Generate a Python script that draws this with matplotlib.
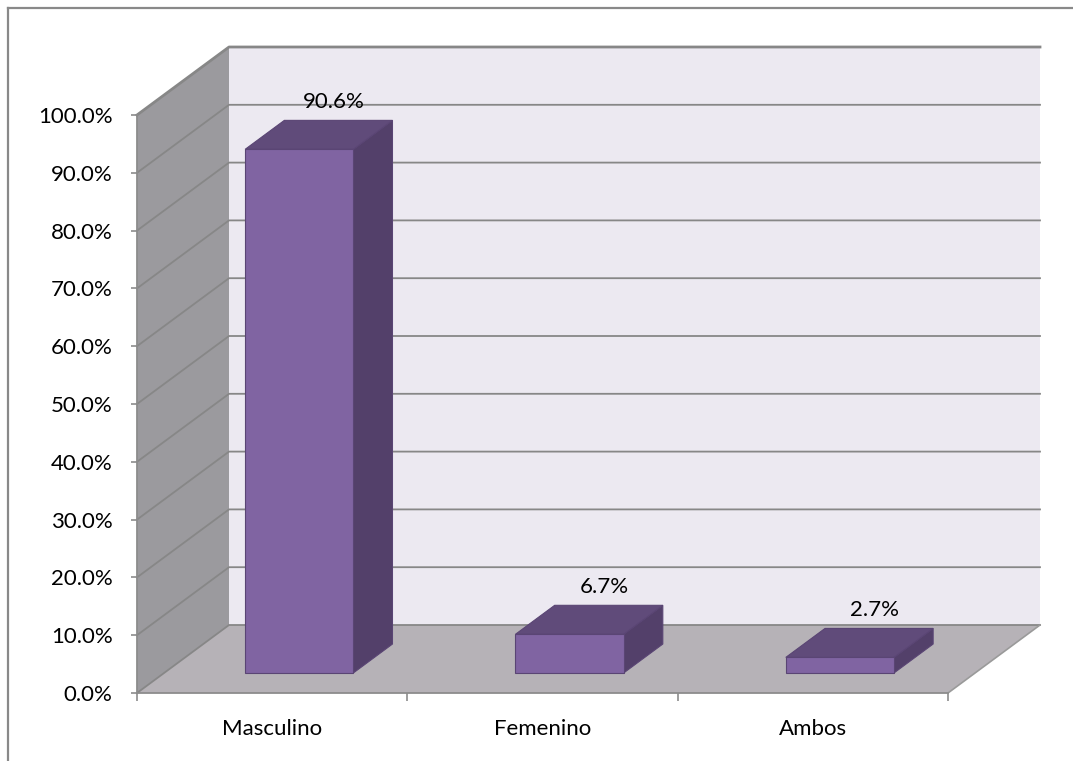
import matplotlib
matplotlib.use("Agg")
import matplotlib.pyplot as plt
from matplotlib.patches import Polygon
from matplotlib.lines import Line2D
from matplotlib.ticker import FixedLocator

# ---- data ----
categories = ["Masculino", "Femenino", "Ambos"]
values = [90.6, 6.7, 2.7]
labels = ["90.6%", "6.7%", "2.7%"]
yticks = [0, 10, 20, 30, 40, 50, 60, 70, 80, 90, 100]
ytick_labels = ["0.0%", "10.0%", "20.0%", "30.0%", "40.0%", "50.0%",
                "60.0%", "70.0%", "80.0%", "90.0%", "100.0%"]

# ---- style ----
FONT = ["Lato", "DejaVu Sans"]
plt.rcParams["font.family"] = FONT
FS = 16
W, H = 1073, 761
fig = plt.figure(figsize=(W / 100, H / 100), dpi=100)
fig.patch.set_facecolor("white")

# front plane of the 3D box in pixels
L, R, B, T = 137, 948, 68, 646
ax = fig.add_axes([L / W, B / H, (R - L) / W, (T - B) / H])
ncat = len(categories)
ymax = 100
ax.set_xlim(0, ncat)
ax.set_ylim(0, ymax)
ax.patch.set_alpha(0)

# oblique projection: full depth shifts by (kx units, kv percent)
kx = 92 / ((R - L) / ncat)
kv = 68 / ((T - B) / ymax)


def P(u, v, d):
    return (u + d * kx, v + d * kv)


wall_back = "#ECE9F1"
wall_side = "#9B9A9E"
floor_c = "#B6B2B7"
grid_c = "#878787"

# walls
ax.add_patch(Polygon([P(0, 0, 1), P(ncat, 0, 1), P(ncat, ymax, 1), P(0, ymax, 1)],
                     closed=True, fc=wall_back, ec="none", clip_on=False, zorder=1))
ax.add_patch(Polygon([P(0, 0, 0), P(0, 0, 1), P(0, ymax, 1), P(0, ymax, 0)],
                     closed=True, fc=wall_side, ec="none", clip_on=False, zorder=1))
ax.add_patch(Polygon([P(0, 0, 0), P(ncat, 0, 0), P(ncat, 0, 1), P(0, 0, 1)],
                     closed=True, fc=floor_c, ec="none", clip_on=False, zorder=1))

# gridlines on side + back wall
for g in yticks:
    pts = [P(0, g, 0), P(0, g, 1), P(ncat, g, 1)]
    xs, ys = zip(*pts)
    lw = 2.0 if g == ymax else 1.3
    ax.add_line(Line2D(xs, ys, color=grid_c, lw=lw, clip_on=False, zorder=2))
# floor right edge
xs, ys = zip(P(ncat, 0, 0), P(ncat, 0, 1))
ax.add_line(Line2D(xs, ys, color="#9A9A9A", lw=1.2, clip_on=False, zorder=2))

# bars
front_c = "#8064A2"
side_c = "#53406A"
top_c = "#604B7A"
edge_c = "#5A4574"
d1, d2 = 0.294, 0.72
half = 0.2
for i, val in enumerate(values):
    c = i + 0.5
    u0, u1 = c - half, c + half
    front = [P(u0, 0, d1), P(u1, 0, d1), P(u1, val, d1), P(u0, val, d1)]
    side = [P(u1, 0, d1), P(u1, 0, d2), P(u1, val, d2), P(u1, val, d1)]
    top = [P(u0, val, d1), P(u1, val, d1), P(u1, val, d2), P(u0, val, d2)]
    for poly, col in ((side, side_c), (top, top_c), (front, front_c)):
        ax.add_patch(Polygon(poly, closed=True, fc=col, ec=edge_c, lw=0.8,
                             clip_on=False, zorder=3))
    lx, ly = P(c, val, d2)
    ax.annotate(labels[i], (lx, ly), xytext=(-3, 13), textcoords="offset points",
                ha="center", va="center", fontsize=FS, color="black",
                annotation_clip=False, zorder=5)

# axes / ticks
for s in ("top", "right"):
    ax.spines[s].set_visible(False)
for s in ("left", "bottom"):
    ax.spines[s].set_color("#8C8C8C")
    ax.spines[s].set_linewidth(1.3)
    ax.spines[s].set_zorder(4)

ax.set_yticks(yticks)
ax.set_yticklabels(ytick_labels)
ax.tick_params(axis="y", direction="out", length=4.5, width=1.2, color="#8C8C8C",
               pad=13, labelsize=FS)
ax.set_xticks([i + 0.5 for i in range(ncat)])
ax.set_xticklabels(categories)
ax.xaxis.set_minor_locator(FixedLocator(list(range(ncat + 1))))
ax.tick_params(axis="x", which="major", length=0, pad=19, labelsize=FS)
ax.tick_params(axis="x", which="minor", direction="out", length=6, width=1.2,
               color="#8C8C8C")

# outer chart-area frame (left and top visible)
fig.add_artist(Line2D([7.5 / W, 7.5 / W], [0, 1 - 8 / H], color="#898989", lw=1.6,
                      transform=fig.transFigure))
fig.add_artist(Line2D([7.5 / W, 1], [1 - 8 / H, 1 - 8 / H], color="#898989", lw=1.6,
                      transform=fig.transFigure))

fig.savefig("out.png", dpi=100)
